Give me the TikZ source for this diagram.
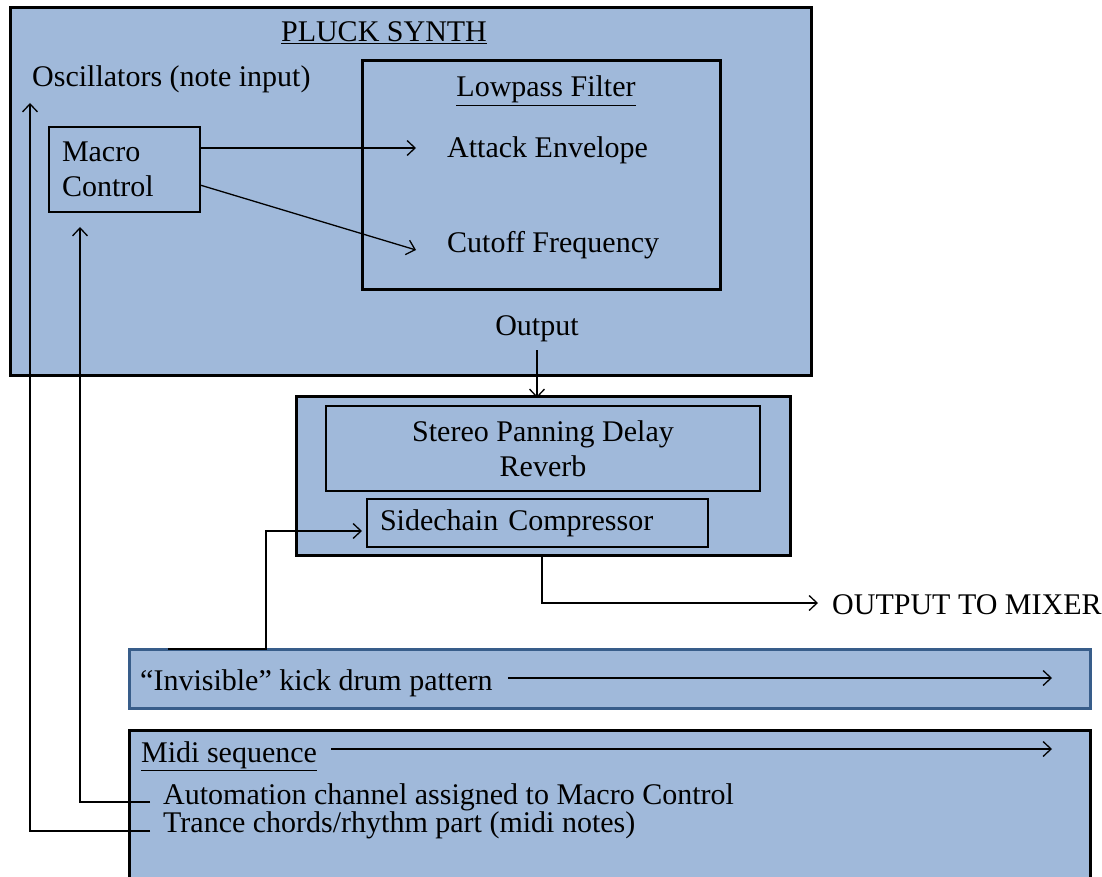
\documentclass[tikz,border=0pt]{standalone}
\usepackage{fontspec}
\setmainfont{Liberation Serif}
\usetikzlibrary{arrows.meta}
\definecolor{boxfill}{RGB}{160,185,218}
\definecolor{kickline}{RGB}{56,93,138}
\begin{document}
\begin{tikzpicture}[x=1pt,y=-1pt,
  txt/.style={font=\fontsize{30}{35}\selectfont, inner sep=0pt},
  bigbox/.style={draw=black, line width=3pt, fill=boxfill, inner sep=0pt, outer sep=0pt, anchor=north west},
  smallbox/.style={draw=black, line width=1.4pt, fill=boxfill, inner sep=0pt, outer sep=0pt, anchor=north west,
    font=\fontsize{30}{35}\selectfont},
  conn/.style={line width=1.3pt, -{Straight Barb[length=8pt,width=15pt]}},
  plainline/.style={line width=1.3pt}]
\useasboundingbox (0,0) rectangle (1102,877);
\fill[white] (0,0) rectangle (1102,877);
\clip (0,0) rectangle (1102,877);

% PLUCK SYNTH block
\node[bigbox, minimum width=801pt, minimum height=367pt] (synth) at (10,8) {};
\node[txt, anchor=base] (title) at (384,42) {\underline{PLUCK SYNTH}};
\node[txt, anchor=base west] (osc) at (32,87) {Oscillators (note input)};
\node[smallbox, minimum width=151pt, minimum height=85pt, text width=125pt, inner xsep=13pt, align=left] (macro) at (49,127) {Macro\\Control};
\node[bigbox, minimum width=358pt, minimum height=228pt] (lpf) at (362,61) {};
\node[txt, anchor=base] (lpftitle) at (546,97) {\underline{Lowpass Filter}};
\node[txt, anchor=base west] (attack) at (447,158) {Attack Envelope};
\node[txt, anchor=base west] (cutoff) at (447,252) {Cutoff Frequency};
\node[txt, anchor=base] (output) at (537,335) {Output};

% Effects block
\node[bigbox, minimum width=494pt, minimum height=159pt] (fx) at (296,396) {};
\node[smallbox, minimum width=434pt, minimum height=85pt, align=center] (stereo) at (326,406) {Stereo Panning Delay\\Reverb};
\node[smallbox, minimum width=341pt, minimum height=48pt, text width=315pt, inner xsep=13pt, align=left] (side) at (367,499) {Sidechain Compressor};
\node[txt, anchor=base west] (mixer) at (832,614) {OUTPUT TO MIXER};

% Kick drum block
\node[draw=kickline, line width=3pt, fill=boxfill, anchor=north west, inner sep=0pt, outer sep=0pt, minimum width=961pt, minimum height=59pt] (kick) at (129,649) {};
\node[txt, anchor=base west] (kicktxt) at (140,690) {``Invisible'' kick drum pattern};

% Midi block
\node[bigbox, minimum width=961pt, minimum height=200pt] (midi) at (129,730) {};
\node[txt, anchor=base west] (miditxt) at (141,762) {\underline{Midi sequence}};
\node[txt, anchor=base west] (auto) at (163,804) {Automation channel assigned to Macro Control};
\node[txt, anchor=base west] (trance) at (163,832) {Trance chords/rhythm part (midi notes)};

% connectors
\draw[conn] ([yshift=21.5pt]macro.east) -- ([xshift=-31pt,yshift=10pt]attack.base west);
\draw[conn] ([yshift=-15.5pt]macro.east) -- ([xshift=-31pt,yshift=2pt]cutoff.base west);
\draw[conn] ([yshift=-15pt]output.base) -- ([yshift=-2pt]output.base |- fx.north);
\draw[conn] ([xshift=39pt]kick.north west) -- ([xshift=137pt]kick.north west) |- ([xshift=-5pt,yshift=-8pt]side.west);
\draw[conn] ([xshift=-1pt]fx.south) |- ([xshift=-14pt,yshift=11pt]mixer.base west);
\draw[conn] ([xshift=15pt,yshift=12pt]kicktxt.base east) -- ([xshift=-38pt,yshift=12pt]kicktxt.base east -| kick.east);
\draw[conn] ([xshift=14pt,yshift=13pt]miditxt.base east) -- ([xshift=-38pt,yshift=13pt]miditxt.base east -| midi.east);
\draw[conn] ([xshift=-13pt,yshift=2pt]auto.base west) -| ([xshift=31pt,yshift=-15pt]macro.south west);
\draw[conn] ([xshift=-13pt,yshift=1pt]trance.base west) -| ([xshift=-2pt,yshift=-16pt]osc.base west);
\end{tikzpicture}
\end{document}
